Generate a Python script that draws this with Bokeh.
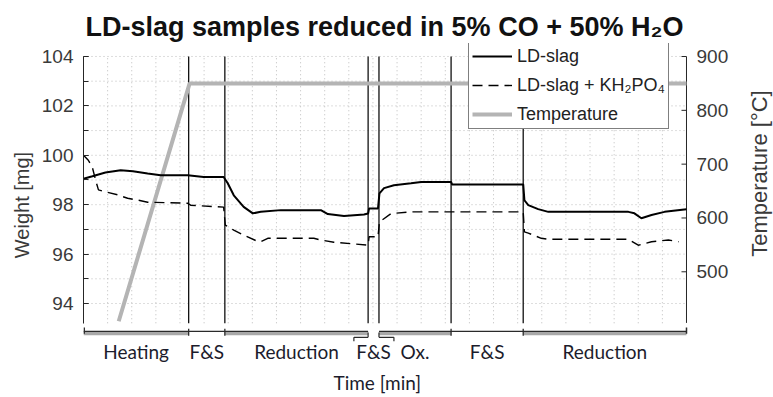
import math
from bokeh.plotting import figure
from bokeh.models import Range1d, SingleIntervalTicker, Legend, LegendItem, Title
from bokeh.core.properties import value
from bokeh.embed import file_html
from bokeh.resources import INLINE

# ---------------- data ----------------
time_slag = [0, 3.7, 9.1, 15.4, 20.5, 26.6, 32.0, 43.2, 49.8, 58.1,
             59.8, 62.3, 66.4, 70.2, 73.5, 81.8, 98.4, 101.3, 108.0, 116.3,
             118.0, 118.4, 122.1, 122.7, 124.6, 128.7, 135.8, 140.0, 152.4, 152.8,
             182.3, 182.8, 184.4, 188.5, 192.7, 225.9, 228.4, 231.3, 235.5, 240.9,
             250.0]
weight_slag = [99.05, 99.15, 99.3, 99.39, 99.35, 99.26, 99.19, 99.19, 99.12, 99.12,
               98.87, 98.38, 97.91, 97.65, 97.71, 97.78, 97.78, 97.62, 97.54, 97.6,
               97.64, 97.85, 97.85, 98.46, 98.67, 98.79, 98.87, 98.92, 98.92, 98.82,
               98.82, 98.18, 97.98, 97.82, 97.71, 97.71, 97.65, 97.45, 97.58, 97.71,
               97.82]

time_kh = [0, 2.0, 3.7, 5.0, 6.2, 10.0, 14.1, 18.3, 22.8, 26.6,
           43.2, 44.4, 58.1, 58.8, 62.3, 66.4, 71.4, 73.5, 76.4, 95.5,
           98.4, 103.8, 118.0, 118.4, 122.1, 122.7, 127.5, 135.8, 182.3, 182.8,
           184.4, 189.8, 192.7, 225.9, 230.0, 235.5, 242.5, 246.7]
weight_kh = [100.0, 99.8, 99.5, 99.0, 98.6, 98.5, 98.4, 98.26, 98.18, 98.1,
             98.06, 97.98, 97.9, 97.17, 96.97, 96.77, 96.55, 96.5, 96.64, 96.64,
             96.57, 96.48, 96.36, 96.7, 96.7, 97.3, 97.64, 97.71, 97.71, 96.9,
             96.85, 96.64, 96.6, 96.6, 96.36, 96.5, 96.57, 96.5]

time_temp = [14.6, 44.0, 250.0]
temperature = [408, 850, 850]

phase_names = ["Heating", "F&S", "Reduction", "F&S", "Ox.", "F&S", "Reduction"]
phase_edges = [0, 43.6, 58.6, 118.0, 122.5, 152.4, 182.3, 250.0]

weight_ticks_interval = 2
weight_grid = list(range(94, 105))
temp_ticks = [500, 600, 700, 800, 900]
time_grid = list(range(10, 250, 10))

# ---------------- figure ----------------
T_END = 250.0
X_END = 286.07          # frame runs on to the right edge so the right axis can be drawn inside it
PX = 690.0 / X_END      # screen pixels per minute
W_LOW, W_HIGH = 93.2, 104.0
T_LOW, T_HIGH = 405, 900

p = figure(width=773, height=397, x_range=Range1d(0, X_END), y_range=Range1d(91.45, 104.525),
           output_backend="svg", toolbar_location=None, x_axis_location=None,
           min_border_left=83, min_border_right=0, min_border_top=43, min_border_bottom=31,
           title="LD-slag samples reduced in 5% CO + 50% H\u2082O")
p.outline_line_color = None
p.background_fill_color = "white"
p.border_fill_color = "white"
p.extra_y_ranges = {"temp": Range1d(324, 924.2)}

p.title.text_font = "Liberation Sans"
p.title.text_font_style = "bold"
p.title.text_font_size = "27px"
p.title.align = "left"
p.title.offset = 2
p.title.vertical_align = "top"
p.title.text_color = "#111111"
p.title.standoff = 0

AX_COLOR = "#262626"
TICK_COLOR = "#3a3a3a"
TXT2 = "#1c1c2c"

# left axis
left = p.yaxis[0]
left.ticker = SingleIntervalTicker(interval=weight_ticks_interval, num_minor_ticks=2)
left.bounds = (W_LOW, W_HIGH)
left.axis_label = "Weight [mg]"
left.axis_label_text_font = "Liberation Sans"
left.axis_label_text_font_style = "normal"
left.axis_label_text_font_size = "20px"
left.axis_label_text_color = TICK_COLOR
left.axis_label_standoff = 6
left.major_label_text_font = "Liberation Sans"
left.major_label_text_font_size = "19px"
left.major_label_text_color = TICK_COLOR
left.major_label_standoff = 10
left.axis_line_color = AX_COLOR
left.major_tick_in = 5
left.major_tick_out = 0
left.minor_tick_in = 5
left.minor_tick_out = 0
left.major_tick_line_color = AX_COLOR
left.minor_tick_line_color = AX_COLOR

# x axis title
p.add_layout(Title(text="Time [min]", align="left", offset=250, standoff=5,
                   text_font="Lato", text_font_size="19px", text_font_style="normal",
                   text_color=TXT2), "below")

# grids (dotted)
GRID_COLOR = "#bcbcbc"
p.xgrid.visible = False
p.ygrid.visible = False
p.segment(x0=0, y0=weight_grid, x1=T_END, y1=weight_grid,
          line_color=GRID_COLOR, line_dash="1 3", line_width=1)
p.segment(x0=time_grid, y0=W_LOW, x1=time_grid, y1=W_HIGH,
          line_color=GRID_COLOR, line_dash="1 3", line_width=1)

# right (temperature) axis, drawn on the temperature scale
p.segment(x0=T_END, y0=T_LOW, x1=T_END, y1=T_HIGH, y_range_name="temp",
          line_color=AX_COLOR, line_width=1)
p.segment(x0=T_END - 5 / PX, y0=temp_ticks, x1=T_END, y1=temp_ticks, y_range_name="temp",
          line_color=AX_COLOR, line_width=1)
p.text(x=T_END + 10 / PX, y=temp_ticks, text=[str(t) for t in temp_ticks], y_range_name="temp",
       text_align="left", text_baseline="middle", text_font=value("Liberation Sans"),
       text_font_size="19px", text_color=TICK_COLOR)
p.text(x=[T_END + 73 / PX], y=[(T_LOW + T_HIGH) / 2 + 30], text=["Temperature [\u00b0C]"],
       y_range_name="temp", angle=math.pi / 2, text_align="center", text_baseline="middle",
       text_font=value("Liberation Sans"), text_font_size="22px", text_color=TICK_COLOR)

# phase boundary lines
inner_edges = phase_edges[1:-1]
p.segment(x0=inner_edges, y0=W_LOW, x1=inner_edges, y1=W_HIGH,
          line_color="#111111", line_width=1.3)

# temperature
r_temp = p.line(time_temp, temperature, y_range_name="temp",
                line_color="#b4b4b4", line_width=4)
# weight curves
r_slag = p.line(time_slag, weight_slag, line_color="black", line_width=2)
r_kh = p.line(time_kh, weight_kh, line_color="black", line_width=1.4, line_dash="10 6")

# ---------------- phase brackets below the plot ----------------
Y_BR = 92.83
gray_idx = [0, 2, 4, 6]
p.segment(x0=[phase_edges[i] for i in gray_idx], y0=Y_BR - 0.04,
          x1=[phase_edges[i + 1] for i in gray_idx], y1=Y_BR - 0.04,
          line_color="#a8a8a8", line_width=3.5)
p.segment(x0=[phase_edges[0], phase_edges[4]], y0=Y_BR + 0.04,
          x1=[phase_edges[3], phase_edges[7]], y1=Y_BR + 0.04,
          line_color="#2a2a2a", line_width=1.2)
tick_edges = [phase_edges[1], phase_edges[2], phase_edges[5], phase_edges[6]]
p.segment(x0=tick_edges, y0=Y_BR - 0.14, x1=tick_edges, y1=Y_BR + 0.15,
          line_color="#2a2a2a", line_width=1.3)
end_edges = [phase_edges[0] + 0.3, phase_edges[7]]
p.segment(x0=end_edges, y0=Y_BR - 0.05, x1=end_edges, y1=Y_BR + 0.2,
          line_color="#2a2a2a", line_width=1.5)
# short F&S hooks
a, b = phase_edges[3], phase_edges[4]
hx0 = [a, a - 5.9, a - 5.9, b, b, b + 6.2]
hy0 = [Y_BR, Y_BR - 0.2, Y_BR - 0.2, Y_BR, Y_BR - 0.2, Y_BR - 0.2]
hx1 = [a, a, a - 5.9, b, b + 6.2, b + 6.2]
hy1 = [Y_BR - 0.2, Y_BR - 0.2, Y_BR - 0.36, Y_BR - 0.2, Y_BR - 0.2, Y_BR - 0.36]
p.segment(x0=hx0, y0=hy0, x1=hx1, y1=hy1, line_color="#2a2a2a", line_width=1.2)

mids = [(phase_edges[i] + phase_edges[i + 1]) / 2 for i in range(len(phase_names))]
p.text(x=mids, y=92.04, text=phase_names, text_align="center", text_baseline="middle",
       text_font=value("Lato"), text_font_size="19px", text_color=TXT2)

# ---------------- legend ----------------
legend = Legend(items=[LegendItem(label="LD-slag", renderers=[r_slag]),
                       LegendItem(label="LD-slag + KH\u2082PO\u2084", renderers=[r_kh]),
                       LegendItem(label="Temperature", renderers=[r_temp])],
                location=(385, 237))
legend.label_text_font = "Liberation Sans"
legend.label_text_font_size = "18px"
legend.label_text_color = "#222222"
legend.glyph_width = 40
legend.glyph_height = 22
legend.label_height = 22
legend.label_standoff = 5
legend.padding = 3
legend.spacing = 7
legend.margin = 0
legend.border_line_color = "black"
legend.border_line_width = 1
legend.background_fill_color = "white"
legend.background_fill_alpha = 1.0
p.add_layout(legend)

open("out.html", "w").write(file_html(p, INLINE))
